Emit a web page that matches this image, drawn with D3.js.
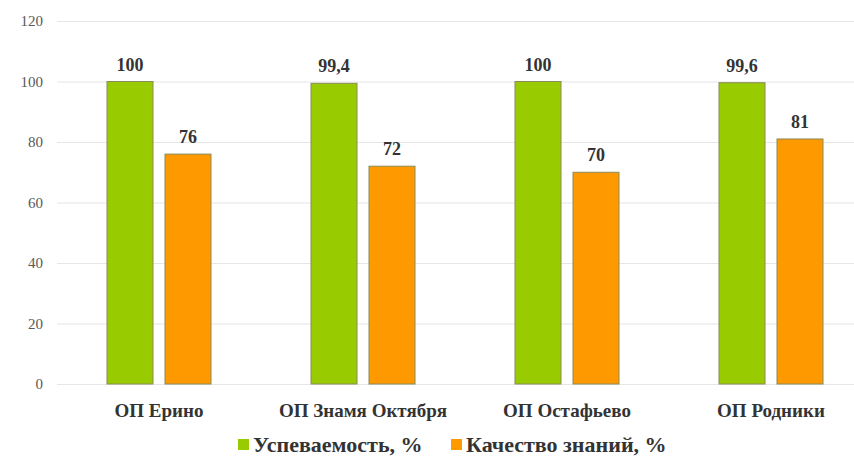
<!DOCTYPE html>
<html>
<head>
<meta charset="utf-8">
<script src="https://cdn.jsdelivr.net/npm/d3@7"></script>
<style>
html,body{margin:0;padding:0;background:#fff;}
svg{display:block;}
</style>
</head>
<body>
<svg id="chart" width="854" height="456"></svg>
<script>
const categories = ["ОП Ерино", "ОП Знамя Октября", "ОП Остафьево", "ОП Родники"];
const seriesNames = ["Успеваемость, %", "Качество знаний, %"];
const uspevaemost = [100, 99.4, 100, 99.6];
const kachestvo = [76, 72, 70, 81];
const valueLabels = [["100", "99,4", "100", "99,6"], ["76", "72", "70", "81"]];
const yTicks = [0, 20, 40, 60, 80, 100, 120];
const colors = ["#99cc00", "#ff9900"];

const FONT = "Liberation Serif";
const svg = d3.select("#chart");
const W = 854, H = 456;
const x0 = d3.scaleBand().domain(categories).range([57, 873]).padding(0);
const x1 = d3.scaleBand().domain(seriesNames).range([50, 154]).paddingInner(12/58).paddingOuter(0);
const y = d3.scaleLinear().domain([0, 120]).range([384, 21]);

// gridlines
svg.append("g").selectAll("line").data(yTicks).join("line")
  .attr("x1", 57).attr("x2", W)
  .attr("y1", d => y(d) + 0.5).attr("y2", d => y(d) + 0.5)
  .attr("stroke", "#e6e6e6").attr("stroke-width", 1.2);

// y axis labels
const yAxis = d3.axisLeft(y).tickValues(yTicks).tickSize(0).tickPadding(0);
const ya = svg.append("g").attr("transform", "translate(43,0)").call(yAxis)
  .attr("font-family", FONT);
ya.select(".domain").remove();
ya.selectAll("text").attr("fill", "#595959").attr("font-size", 15)
  .attr("font-family", FONT);

const series = [uspevaemost, kachestvo];
const groups = svg.append("g").selectAll("g").data(categories).join("g")
  .attr("transform", d => `translate(${x0(d)},0)`);

groups.each(function(cat, ci) {
  const g = d3.select(this);
  seriesNames.forEach((s, si) => {
    const v = series[si][ci];
    g.append("rect")
      .attr("x", x1(s)).attr("width", x1.bandwidth())
      .attr("y", y(v)).attr("height", y(0) - y(v))
      .attr("fill", colors[si])
      .attr("stroke", "#8a8a5a").attr("stroke-width", 1);
    g.append("text")
      .attr("x", x1(s) + x1.bandwidth() / 2)
      .attr("y", y(v) - 11)
      .attr("text-anchor", "middle")
      .attr("font-family", FONT)
      .attr("font-size", 18).attr("font-weight", "bold").attr("fill", "#333")
      .text(valueLabels[si][ci]);
  });
});

// category labels
svg.append("g").selectAll("text").data(categories).join("text")
  .attr("x", d => x0(d) + 102)
  .attr("y", 417)
  .attr("text-anchor", "middle")
  .attr("font-family", FONT)
  .attr("font-size", 19).attr("font-weight", "bold").attr("fill", "#333")
  .text(d => d);

// legend
const legendX = [238, 451];
const leg = svg.append("g").selectAll("g").data(seriesNames).join("g")
  .attr("transform", (d, i) => `translate(${legendX[i]},439)`);
leg.append("rect").attr("x", 0).attr("y", 0).attr("width", 11).attr("height", 11)
  .attr("fill", (d, i) => colors[i]);
leg.append("text").attr("x", 15).attr("y", 13)
  .attr("font-family", FONT)
  .attr("font-size", 22).attr("font-weight", "bold").attr("fill", "#333")
  .text(d => d);
</script>
</body>
</html>
